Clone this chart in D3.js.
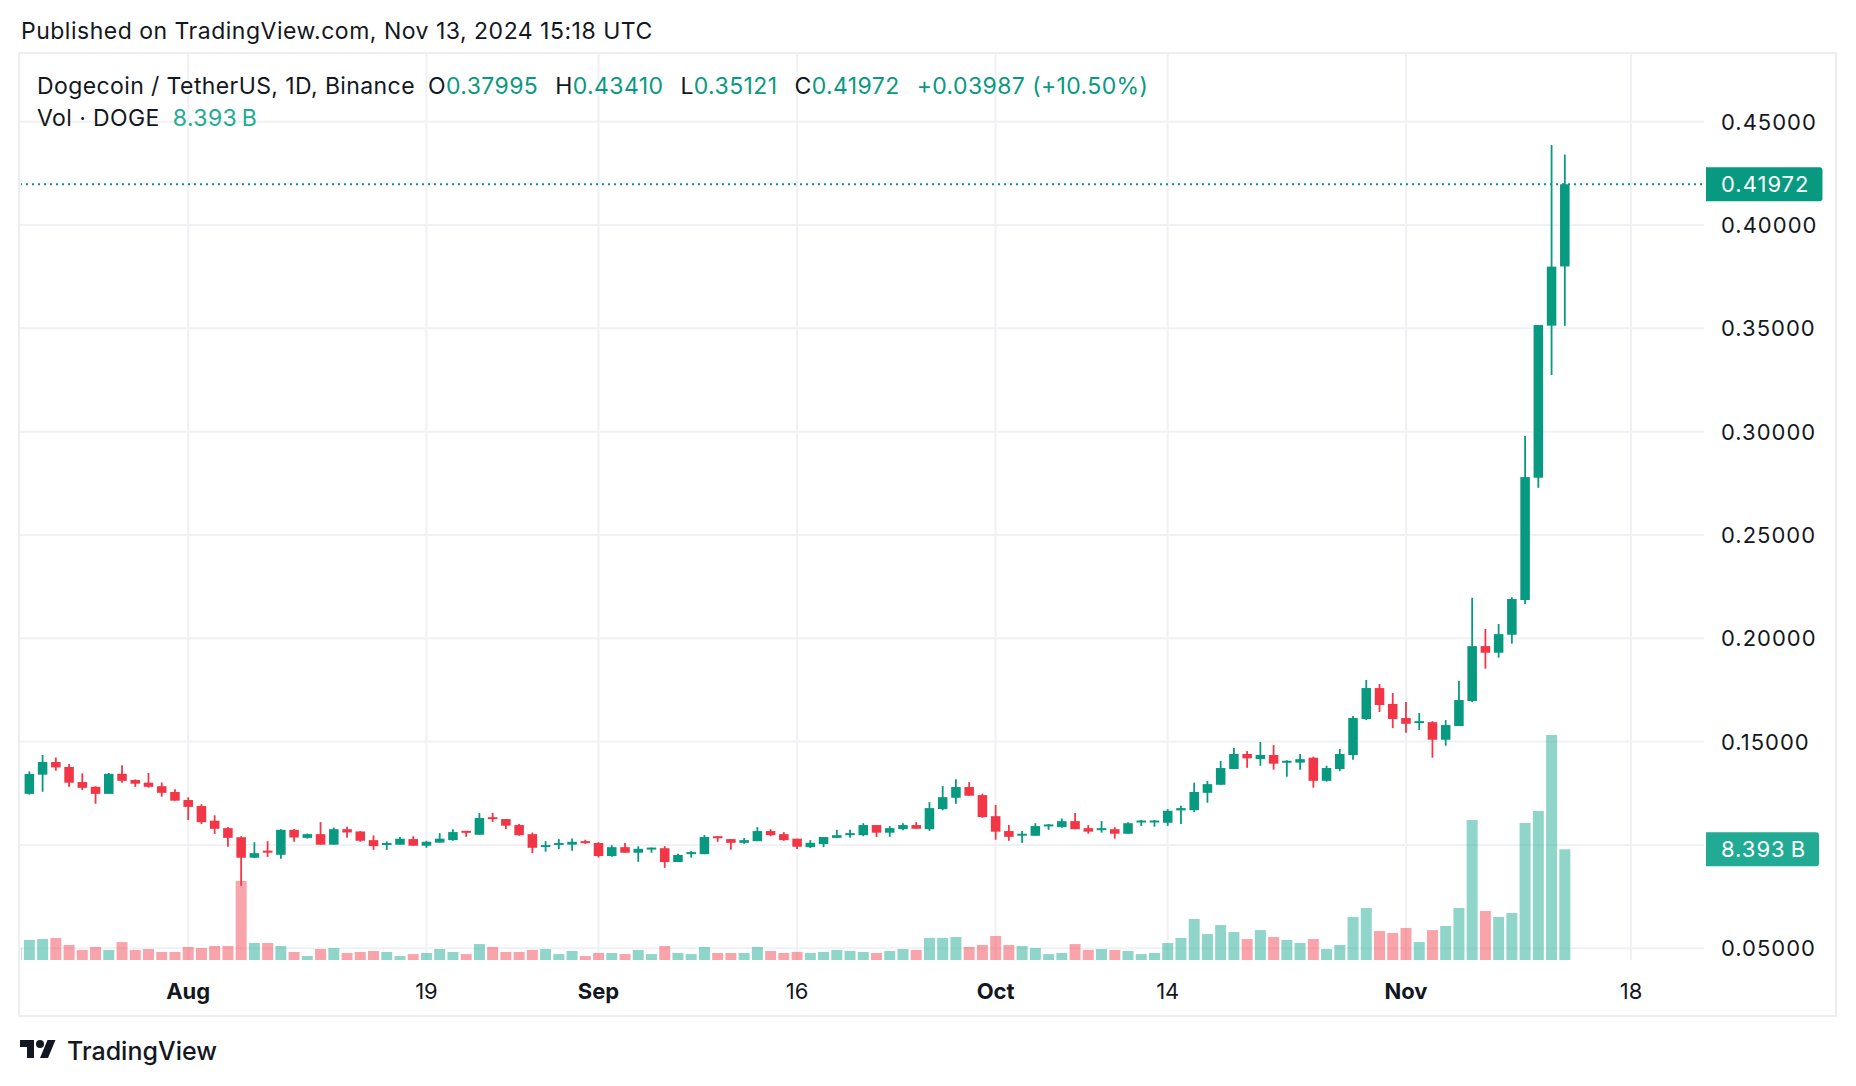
<!DOCTYPE html>
<html>
<head>
<meta charset="utf-8">
<script src="https://cdn.jsdelivr.net/npm/d3@7"></script>
<style>
  html, body { margin: 0; padding: 0; background: #fff; }
  svg { display: block; font-family: Inter, "Noto Sans", sans-serif; }
</style>
</head>
<body>
<svg id="chart" width="1856" height="1086"></svg>
<script>
// Daily DOGE/USDT candles, Jul 19 -> Nov 13 2024
const firstDay = Date.UTC(2024, 6, 19);

const opens = [
  0.1215, 0.1247, 0.1340, 0.1401, 0.1377, 0.1304, 0.1281, 0.1247, 0.1344, 0.1314, 0.1301, 0.1284, 0.1256,
  0.1217, 0.1188, 0.1117, 0.1081, 0.1037, 0.0938, 0.0972, 0.0952, 0.1073, 0.1034, 0.1052, 0.1001, 0.1076,
  0.1065, 0.1023, 0.1001, 0.1001, 0.1028, 0.0996, 0.1011, 0.1023, 0.1068, 0.1049, 0.1134, 0.1125, 0.1096,
  0.1052, 0.0991, 0.1001, 0.1001, 0.1018,
  0.1009, 0.0946, 0.0989, 0.0962, 0.0981, 0.0984, 0.0917, 0.0957, 0.0955, 0.1042, 0.1028, 0.1010, 0.1018,
  0.1067, 0.1052, 0.1030, 0.0989, 0.1004, 0.1034, 0.1047, 0.1047, 0.1096, 0.1059, 0.1076, 0.1096, 0.1076,
  0.1173, 0.1228, 0.1280, 0.1241,
  0.1139, 0.1067, 0.1047, 0.1044, 0.1091, 0.1086, 0.1115, 0.1081, 0.1073, 0.1076, 0.1054, 0.1111, 0.1110,
  0.1107, 0.1167, 0.1168, 0.1252, 0.1291, 0.1367, 0.1440, 0.1415, 0.1435, 0.1398, 0.1398, 0.1422, 0.1310,
  0.1367, 0.1435, 0.1609, 0.1759, 0.1682,
  0.1614, 0.1591, 0.1594, 0.1509, 0.1575, 0.1696, 0.1962, 0.1930, 0.2017, 0.2185, 0.2777, 0.3513, 0.37995
];
const highs = [
  0.1262, 0.1356, 0.1435, 0.1423, 0.1391, 0.1346, 0.1284, 0.1348, 0.1386, 0.1317, 0.1348, 0.1302, 0.1269,
  0.1230, 0.1197, 0.1143, 0.1086, 0.1042, 0.1013, 0.1018, 0.1076, 0.1076, 0.1055, 0.1110, 0.1084, 0.1088,
  0.1067, 0.1046, 0.1017, 0.1038, 0.1042, 0.1020, 0.1057, 0.1076, 0.1068, 0.1154, 0.1155, 0.1125, 0.1101,
  0.1060, 0.1018, 0.1028, 0.1031, 0.1025,
  0.1013, 0.0999, 0.1009, 0.0993, 0.0987, 0.0994, 0.0957, 0.0970, 0.1048, 0.1042, 0.1028, 0.1033, 0.1086,
  0.1076, 0.1062, 0.1030, 0.1023, 0.1038, 0.1073, 0.1073, 0.1105, 0.1096, 0.1091, 0.1105, 0.1110, 0.1207,
  0.1285, 0.1318, 0.1304, 0.1248,
  0.1193, 0.1096, 0.1067, 0.1105, 0.1101, 0.1128, 0.1154, 0.1096, 0.1115, 0.1086, 0.1110, 0.1121, 0.1121,
  0.1173, 0.1189, 0.1301, 0.1309, 0.1406, 0.1469, 0.1454, 0.1498, 0.1483, 0.1410, 0.1440, 0.1427, 0.1383,
  0.1464, 0.1624, 0.1798, 0.1778, 0.1735,
  0.1691, 0.1638, 0.1599, 0.1604, 0.1794, 0.2196, 0.2045, 0.2069, 0.2198, 0.2979, 0.3516, 0.4387, 0.43410
];
const lows = [
  0.1198, 0.1243, 0.1257, 0.1359, 0.1281, 0.1265, 0.1199, 0.1247, 0.1301, 0.1281, 0.1277, 0.1233, 0.1214,
  0.1120, 0.1101, 0.1053, 0.0991, 0.0802, 0.0936, 0.0942, 0.0933, 0.1015, 0.1030, 0.1001, 0.1001, 0.1034,
  0.1015, 0.0976, 0.0976, 0.1001, 0.0996, 0.0986, 0.1011, 0.1020, 0.1039, 0.1049, 0.1111, 0.1076, 0.1044,
  0.0960, 0.0967, 0.0980, 0.0972, 0.1005,
  0.0939, 0.0942, 0.0962, 0.0918, 0.0962, 0.0889, 0.0917, 0.0938, 0.0955, 0.1015, 0.0976, 0.1005, 0.1018,
  0.1042, 0.1020, 0.0980, 0.0985, 0.0989, 0.1034, 0.1034, 0.1042, 0.1038, 0.1039, 0.1071, 0.1078, 0.1068,
  0.1168, 0.1199, 0.1238, 0.1131,
  0.1025, 0.1020, 0.1010, 0.1044, 0.1073, 0.1083, 0.1076, 0.1054, 0.1059, 0.1030, 0.1054, 0.1092, 0.1088,
  0.1092, 0.1101, 0.1159, 0.1204, 0.1291, 0.1367, 0.1373, 0.1383, 0.1364, 0.1330, 0.1364, 0.1277, 0.1306,
  0.1357, 0.1412, 0.1604, 0.1643, 0.1565,
  0.1543, 0.1556, 0.1422, 0.1480, 0.1575, 0.1691, 0.1853, 0.1906, 0.1974, 0.2166, 0.2728, 0.3274, 0.35121
];
const closes = [
  0.1247, 0.1343, 0.1401, 0.1375, 0.1301, 0.1276, 0.1247, 0.1344, 0.1310, 0.1296, 0.1281, 0.1252, 0.1214,
  0.1184, 0.1110, 0.1078, 0.1034, 0.0938, 0.0960, 0.0963, 0.1073, 0.1036, 0.1052, 0.1001, 0.1076, 0.1060,
  0.1020, 0.0994, 0.1009, 0.1030, 0.0996, 0.1015, 0.1030, 0.1062, 0.1062, 0.1130, 0.1126, 0.1093, 0.1047,
  0.0986, 0.0999, 0.1009, 0.1015, 0.1011,
  0.0946, 0.0989, 0.0962, 0.0981, 0.0987, 0.0917, 0.0951, 0.0965, 0.1038, 0.1036, 0.1010, 0.1023, 0.1067,
  0.1047, 0.1023, 0.0991, 0.1010, 0.1038, 0.1047, 0.1057, 0.1096, 0.1059, 0.1081, 0.1096, 0.1078, 0.1178,
  0.1231, 0.1280, 0.1238, 0.1135,
  0.1064, 0.1039, 0.1054, 0.1091, 0.1099, 0.1115, 0.1076, 0.1064, 0.1081, 0.1054, 0.1105, 0.1118, 0.1118,
  0.1165, 0.1178, 0.1256, 0.1294, 0.1372, 0.1440, 0.1419, 0.1435, 0.1393, 0.1407, 0.1415, 0.1310, 0.1372,
  0.1440, 0.1614, 0.1759, 0.1677, 0.1609,
  0.1586, 0.1599, 0.1509, 0.1580, 0.1701, 0.1962, 0.1930, 0.2020, 0.2190, 0.2780, 0.3516, 0.37985, 0.41972
];
// volume in billions of DOGE
const volumes = [
  0.91, 1.52, 1.59, 1.67, 1.14, 0.76, 0.99, 0.76, 1.36, 0.76, 0.83, 0.61, 0.61,
  0.99, 0.91, 1.06, 1.06, 5.99, 1.29, 1.29, 1.06, 0.61, 0.30, 0.83, 0.91, 0.53,
  0.61, 0.68, 0.61, 0.30, 0.45, 0.53, 0.83, 0.61, 0.45, 1.21, 0.99, 0.61, 0.61,
  0.76, 0.83, 0.45, 0.68, 0.30,
  0.53, 0.53, 0.45, 0.76, 0.45, 1.06, 0.53, 0.45, 0.99, 0.53, 0.53, 0.53, 0.99,
  0.68, 0.53, 0.61, 0.53, 0.61, 0.76, 0.68, 0.61, 0.53, 0.68, 0.83, 0.76, 1.67,
  1.67, 1.74, 0.99, 1.14,
  1.82, 1.14, 1.06, 0.91, 0.45, 0.53, 1.21, 0.76, 0.83, 0.76, 0.68, 0.45, 0.53,
  1.29, 1.67, 3.11, 1.97, 2.65, 2.12, 1.59, 2.27, 1.74, 1.52, 1.29, 1.59, 0.83,
  1.14, 3.26, 3.94, 2.20, 2.05,
  2.43, 1.36, 2.27, 2.58, 3.94, 10.61, 3.72, 3.26, 3.56, 10.39, 11.30, 17.06, 8.393
];

const priceTicks = [0.05, 0.10, 0.15, 0.20, 0.25, 0.30, 0.35, 0.40, 0.45];
const timeTickDates = ['2024-08-01', '2024-08-19', '2024-09-01', '2024-09-16', '2024-10-01', '2024-10-14', '2024-11-01', '2024-11-18'];
const timeTickLabels = ['Aug', '19', 'Sep', '16', 'Oct', '14', 'Nov', '18'];
const monthLabels = ['Aug', 'Sep', 'Oct', 'Nov'];

const legendName = 'Dogecoin / TetherUS, 1D, Binance';
const legendKeys = ['O', 'H', 'L', 'C'];
const titleText = 'Published on TradingView.com, Nov 13, 2024 15:18 UTC';

// Colors
const UP = '#089981';
const DOWN = '#F23645';
const UP_VOL = 'rgba(34,171,148,0.5)';
const DOWN_VOL = 'rgba(242,54,69,0.45)';
const TEXT = '#131722';
const GRID = '#f0f1f4';

// Layout
const plot = { left: 20, right: 1704, top: 53, bottom: 960 };
const DAY = 864e5;

const candles = opens.map((o, i) => ({
  date: new Date(firstDay + i * DAY),
  o, h: highs[i], l: lows[i], c: closes[i], v: volumes[i]
}));

const svg = d3.select('#chart');

const x = d3.scaleUtc()
  .domain([Date.UTC(2024, 7, 1), Date.UTC(2024, 10, 18)])
  .range([188.2, 1631]);
const y = d3.scaleLinear().domain([0.05, 0.45]).range([948.2, 121.7]);
const vy = d3.scaleLinear().domain([0, 10]).range([plot.bottom, plot.bottom - 131.9]);

const step = x(new Date(Date.UTC(2024, 7, 2))) - x(new Date(Date.UTC(2024, 7, 1)));
const bodyW = step * 0.72;
const volW = step * 0.83;

// Frame
svg.append('rect')
  .attr('x', 19).attr('y', 53).attr('width', 1817).attr('height', 963)
  .attr('fill', 'none').attr('stroke', '#eceef2').attr('stroke-width', 2);

// Title
svg.append('text')
  .attr('x', 21).attr('y', 38.5)
  .attr('font-size', 23).attr('letter-spacing', 0.5).attr('fill', TEXT)
  .text(titleText);

// Grid
const grid = svg.append('g');
grid.selectAll('line.h').data(priceTicks).join('line')
  .attr('x1', plot.left).attr('x2', plot.right)
  .attr('y1', d => y(d)).attr('y2', d => y(d))
  .attr('stroke', GRID).attr('stroke-width', 2);
grid.selectAll('line.v').data(timeTickDates).join('line')
  .attr('x1', d => x(new Date(d))).attr('x2', d => x(new Date(d)))
  .attr('y1', plot.top).attr('y2', plot.bottom)
  .attr('stroke', GRID).attr('stroke-width', 2);

// Clip for series
svg.append('clipPath').attr('id', 'plotClip')
  .append('rect')
  .attr('x', plot.left + 1).attr('y', plot.top)
  .attr('width', plot.right - plot.left - 1).attr('height', plot.bottom - plot.top);

const series = svg.append('g').attr('clip-path', 'url(#plotClip)');

// Volume bars
series.append('g').selectAll('rect').data(candles).join('rect')
  .attr('x', d => x(d.date) - volW / 2)
  .attr('width', volW)
  .attr('y', d => vy(d.v))
  .attr('height', d => vy(0) - vy(d.v))
  .attr('fill', d => d.c >= d.o ? UP_VOL : DOWN_VOL);

// Last price line
const last = candles[candles.length - 1];
const prev = candles[candles.length - 2];
series.append('line')
  .attr('x1', plot.left).attr('x2', plot.right)
  .attr('y1', y(last.c)).attr('y2', y(last.c))
  .attr('stroke', UP).attr('stroke-width', 2)
  .attr('stroke-dasharray', '2 4');

// Candles
const cg = series.append('g').selectAll('g').data(candles).join('g')
  .attr('fill', d => d.c >= d.o ? UP : DOWN)
  .attr('stroke', d => d.c >= d.o ? UP : DOWN);

cg.append('line')
  .attr('x1', d => x(d.date)).attr('x2', d => x(d.date))
  .attr('y1', d => y(d.h)).attr('y2', d => y(d.l))
  .attr('stroke-width', 1.8);

cg.append('rect')
  .attr('stroke', 'none')
  .attr('x', d => x(d.date) - bodyW / 2)
  .attr('width', bodyW)
  .attr('y', d => y(Math.max(d.o, d.c)))
  .attr('height', d => Math.max(2, Math.abs(y(d.o) - y(d.c))));

// Price axis labels (the one under the volume tag is hidden, as on the original)
const volTagY = vy(last.v);
svg.append('g').selectAll('text')
  .data(priceTicks.filter(d => Math.abs(y(d) - volTagY) > 20))
  .join('text')
  .attr('x', 1721).attr('y', d => y(d) + 8)
  .attr('font-size', 22).attr('letter-spacing', 1).attr('fill', TEXT)
  .text(d => d3.format('.5f')(d));

// Axis tag boxes (last price, last volume)
function axisTag(yc, label, color) {
  const g = svg.append('g');
  const t = g.append('text')
    .attr('x', 1721).attr('y', yc + 8)
    .attr('font-size', 22).attr('letter-spacing', 1).attr('fill', '#fff')
    .text(label);
  const bb = t.node().getBBox();
  const x0 = 1706, x1 = bb.x + bb.width + 13, y0 = yc - 17, y1 = yc + 17, r = 3;
  g.insert('path', 'text')
    .attr('d', `M${x0},${y0}H${x1 - r}Q${x1},${y0} ${x1},${y0 + r}V${y1 - r}Q${x1},${y1} ${x1 - r},${y1}H${x0}Z`)
    .attr('fill', color);
}
axisTag(y(last.c), d3.format('.5f')(last.c), UP);
axisTag(volTagY, `${last.v.toFixed(3)}\u2009B`, '#22ab94');

// Time axis labels
svg.append('g').selectAll('text').data(timeTickDates).join('text')
  .attr('x', d => x(new Date(d))).attr('y', 998.5)
  .attr('text-anchor', 'middle')
  .attr('font-size', 22).attr('fill', TEXT)
  .attr('font-weight', (d, i) => monthLabels.includes(timeTickLabels[i]) ? 700 : 400)
  .text((d, i) => timeTickLabels[i]);

// Legend
const fmt = d3.format('.5f');
const legend = svg.append('text')
  .attr('x', 37).attr('y', 93.7)
  .attr('font-size', 23).attr('letter-spacing', 0.4).attr('fill', TEXT);
legend.append('tspan').text(legendName);
[last.o, last.h, last.l, last.c].forEach((v, i) => {
  legend.append('tspan').attr('dx', i === 0 ? 13 : 17).attr('fill', TEXT).text(legendKeys[i]);
  legend.append('tspan').attr('fill', UP).text(fmt(v));
});
const chg = last.c - prev.c;
legend.append('tspan').attr('dx', 17).attr('fill', UP)
  .text(`${chg >= 0 ? '+' : ''}${fmt(chg)} (${chg >= 0 ? '+' : ''}${(chg / prev.c * 100).toFixed(2)}%)`);

const volLegend = svg.append('text')
  .attr('x', 37).attr('y', 126.3)
  .attr('font-size', 23).attr('letter-spacing', 0.4).attr('fill', TEXT);
volLegend.append('tspan').text('Vol \u00b7 DOGE');
volLegend.append('tspan').attr('dx', 13).attr('fill', '#22ab94').text(`${last.v.toFixed(3)}\u2009B`);

// TradingView logo
const logo = svg.append('g').attr('transform', 'translate(20,1036)').attr('fill', TEXT);
logo.append('path').attr('d', 'M14 22H7V11H0V4h14v18zM28 22h-8l7.5-18h8L28 22z');
logo.append('circle').attr('cx', 20).attr('cy', 8).attr('r', 4);
svg.append('text')
  .attr('x', 67).attr('y', 1059.5)
  .attr('font-size', 25).attr('font-weight', 500).attr('fill', TEXT)
  .text('TradingView');
</script>
</body>
</html>
